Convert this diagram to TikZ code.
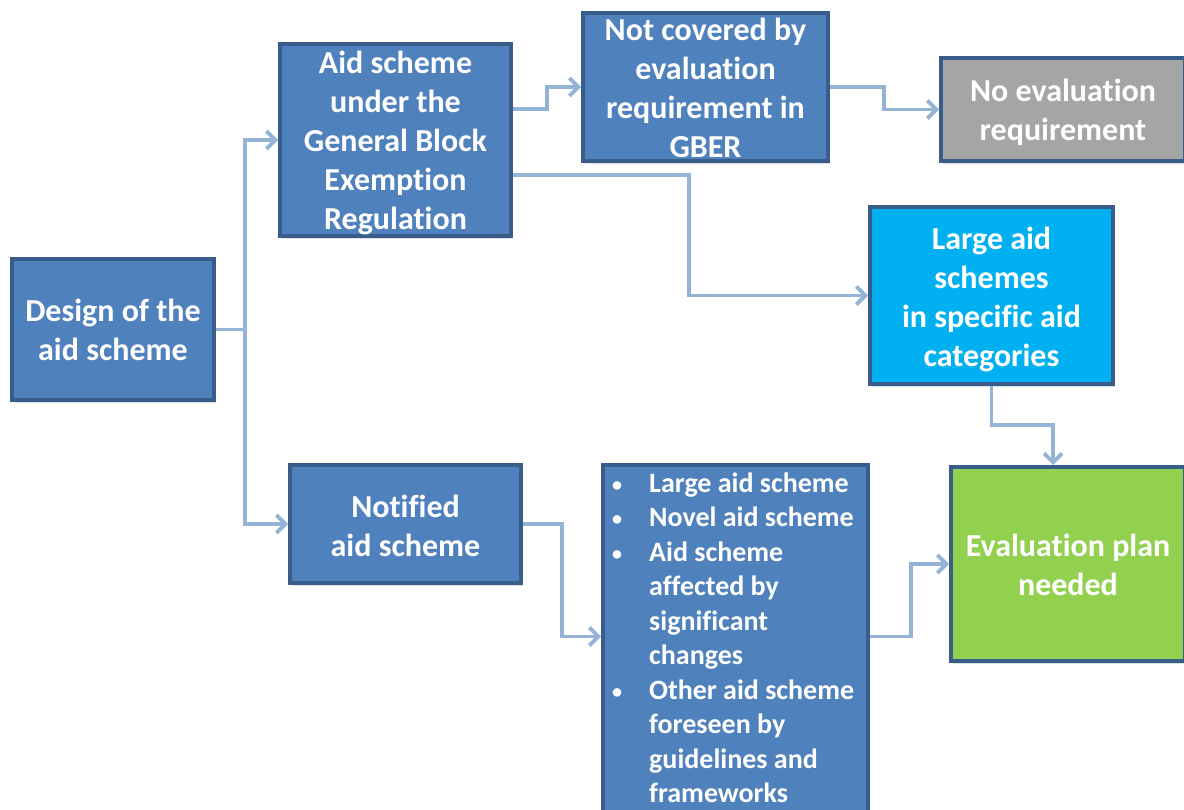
\documentclass[tikz,border=0pt]{standalone}
\usepackage{fontspec}
\setmainfont{Carlito}[Ligatures=NoCommon]
\usetikzlibrary{arrows.meta,shadows,calc}
\definecolor{boxblue}{HTML}{4F81BD}
\definecolor{boxborder}{HTML}{385D8A}
\definecolor{cyanbox}{HTML}{00B0F0}
\definecolor{greenbox}{HTML}{92D050}
\definecolor{graybox}{HTML}{A5A5A5}
\definecolor{connblue}{HTML}{95B3D7}
\tikzset{
  box/.style={draw=boxborder, line width=4pt, fill=boxblue, inner sep=0pt,
    drop shadow={shadow xshift=2pt, shadow yshift=-3pt, opacity=0.25}},
  txt/.style={text=white, align=center, inner sep=0pt,
    font=\fontsize{32}{39}\selectfont\bfseries},
  conn/.style={draw=connblue, line width=3.8pt,
    -{Straight Barb[length=9pt, width=18pt]}},
  bul/.style={text=white, align=left, inner sep=0pt,
    font=\fontsize{28}{34.5}\selectfont\bfseries}
}
\newcommand{\bl}{\makebox[37pt][l]{\fontsize{20}{20}\selectfont\raisebox{1pt}{•}}}
\newcommand{\ind}{\hspace*{37pt}}
\begin{document}
\begin{tikzpicture}[x=1pt,y=1pt]
\useasboundingbox (0,0) rectangle (1184,-810);
\clip (0,0) rectangle (1184,-810);
\node[box, minimum width=202pt, minimum height=141pt] (design) at (113,-329.5) {};
\node[txt] (designtxt) at (design.center) {Design of the\\aid scheme};
\node[box, minimum width=231pt, minimum height=192pt] (gber) at (395.5,-140) {};
\node[txt] (gbertxt) at ([yshift=-2.5pt]gber.center) {Aid scheme\\under the\\General Block\\Exemption\\Regulation};
\node[box, minimum width=245pt, minimum height=148pt] (notcov) at (705.5,-87) {};
\node[txt] (notcovtxt) at ([yshift=-1pt]notcov.center) {Not covered by\\evaluation\\requirement in\\GBER};
\node[box, fill=graybox, minimum width=244pt, minimum height=103pt] (noeval) at (1063,-109.5) {};
\node[txt] (noevaltxt) at ([yshift=-3pt]noeval.center) {No evaluation\\requirement};
\node[box, fill=cyanbox, minimum width=243pt, minimum height=177pt] (large) at (991.5,-295.5) {};
\node[txt] (largetxt) at ([yshift=-3.5pt]large.center) {Large aid\\schemes\\in specific aid\\categories};
\node[box, minimum width=231pt, minimum height=118pt] (notified) at (405.5,-524) {};
\node[txt] (notifiedtxt) at ([yshift=-2pt]notified.center) {Notified\\aid scheme};
\node[box, minimum width=265pt, minimum height=353pt] (bullets) at (735.5,-641.5) {};
\node[bul, anchor=north west] (bultext) at (612,-472.5) {\bl Large aid scheme\\\bl Novel aid scheme\\\bl Aid scheme\\\ind affected by\\\ind significant\\\ind changes\\\bl Other aid scheme\\\ind foreseen by\\\ind guidelines and\\\ind frameworks};
\node[box, fill=greenbox, minimum width=234pt, minimum height=194pt] (eval) at (1068,-564) {};
\node[txt] (evaltxt) at ([yshift=-1pt]eval.center) {Evaluation plan\\needed};

\coordinate (trunk) at ($(design.east)+(29,0)$);
\draw[conn] (design.east) -- (trunk) |- (gber.west);
\draw[conn] (trunk) |- (notified.west);
\draw[conn] ($(gber.east)+(0,31)$) -- ++(34,0) |- (notcov.west);
\draw[conn] ($(gber.east)+(0,-35)$) -- ++(176,0) |- (large.west);
\draw[conn] (notcov.east) -- ++(54,0) |- (noeval.west);
\draw[conn] (large.south) -- ++(0,-39) -| ([xshift=-15pt]eval.north);
\draw[conn] (notified.east) -- ++(39,0) |- ([yshift=5pt]bullets.west);
\draw[conn] ([yshift=5pt]bullets.east) -- ++(41,0) |- (eval.west);
\end{tikzpicture}
\end{document}
